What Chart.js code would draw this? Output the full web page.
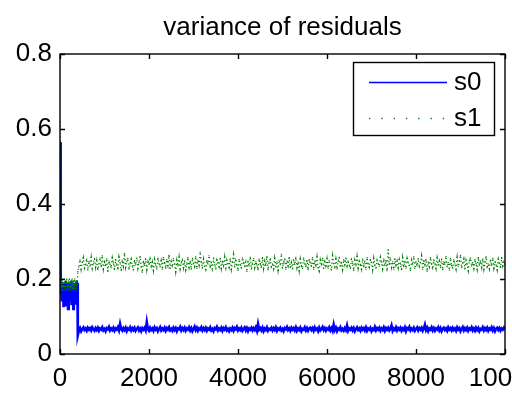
<!DOCTYPE html>
<html>
<head>
<meta charset="utf-8">
<script src="https://cdn.jsdelivr.net/npm/chart.js@4.4.1/dist/chart.umd.min.js"></script>
<style>
  html, body { margin: 0; padding: 0; background: #fff; }
  #wrap { width: 512px; height: 407px; }
</style>
</head>
<body>
<div id="wrap"><canvas id="c" width="512" height="407"></canvas></div>
<script>
const titleText = "variance of residuals";
const seriesNames = ["s0", "s1"];
const xTicks = [0, 2000, 4000, 6000, 8000, 10000];
const xTickLabels = ["0", "2000", "4000", "6000", "8000", "10000"];
const yTicks = [0, 0.2, 0.4, 0.6, 0.8];
const yTickLabels = ["0", "0.2", "0.4", "0.6", "0.8"];

const iterations = [
  0,10,20,30,40,50,60,70,80,90,
  100,110,120,130,140,150,160,170,180,190,
  200,210,220,230,240,250,260,270,280,290,
  300,310,320,330,340,350,360,370,380,390,
  400,
  425,450,475,500,525,550,575,600,625,650,675,700,725,750,775,800,
  825,850,875,900,925,950,975,1000,1025,1050,1075,1100,1125,1150,1175,1200,
  1225,1250,1275,1300,1325,1350,1375,1400,1425,1450,1475,1500,1525,1550,1575,1600,
  1625,1650,1675,1700,1725,1750,1775,1800,1825,1850,1875,1900,1925,1950,1975,2000,
  2025,2050,2075,2100,2125,2150,2175,2200,2225,2250,2275,2300,2325,2350,2375,2400,
  2425,2450,2475,2500,2525,2550,2575,2600,2625,2650,2675,2700,2725,2750,2775,2800,
  2825,2850,2875,2900,2925,2950,2975,3000,3025,3050,3075,3100,3125,3150,3175,3200,
  3225,3250,3275,3300,3325,3350,3375,3400,3425,3450,3475,3500,3525,3550,3575,3600,
  3625,3650,3675,3700,3725,3750,3775,3800,3825,3850,3875,3900,3925,3950,3975,4000,
  4025,4050,4075,4100,4125,4150,4175,4200,4225,4250,4275,4300,4325,4350,4375,4400,
  4425,4450,4475,4500,4525,4550,4575,4600,4625,4650,4675,4700,4725,4750,4775,4800,
  4825,4850,4875,4900,4925,4950,4975,5000,5025,5050,5075,5100,5125,5150,5175,5200,
  5225,5250,5275,5300,5325,5350,5375,5400,5425,5450,5475,5500,5525,5550,5575,5600,
  5625,5650,5675,5700,5725,5750,5775,5800,5825,5850,5875,5900,5925,5950,5975,6000,
  6025,6050,6075,6100,6125,6150,6175,6200,6225,6250,6275,6300,6325,6350,6375,6400,
  6425,6450,6475,6500,6525,6550,6575,6600,6625,6650,6675,6700,6725,6750,6775,6800,
  6825,6850,6875,6900,6925,6950,6975,7000,7025,7050,7075,7100,7125,7150,7175,7200,
  7225,7250,7275,7300,7325,7350,7375,7400,7425,7450,7475,7500,7525,7550,7575,7600,
  7625,7650,7675,7700,7725,7750,7775,7800,7825,7850,7875,7900,7925,7950,7975,8000,
  8025,8050,8075,8100,8125,8150,8175,8200,8225,8250,8275,8300,8325,8350,8375,8400,
  8425,8450,8475,8500,8525,8550,8575,8600,8625,8650,8675,8700,8725,8750,8775,8800,
  8825,8850,8875,8900,8925,8950,8975,9000,9025,9050,9075,9100,9125,9150,9175,9200,
  9225,9250,9275,9300,9325,9350,9375,9400,9425,9450,9475,9500,9525,9550,9575,9600,
  9625,9650,9675,9700,9725,9750,9775,9800,9825,9850,9875,9900,9925,9950,9975,10000
];

const s0Values = [
  0.565,0.19,0.16,0.185,0.14,0.19,0.15,0.18,0.125,0.19,
  0.155,0.185,0.13,0.195,0.15,0.18,0.145,0.19,0.12,0.185,
  0.16,0.19,0.14,0.18,0.155,0.195,0.13,0.185,0.15,0.19,
  0.12,0.18,0.155,0.19,0.135,0.185,0.15,0.195,0.16,0.19,
  0.05,
  0.063,0.069,0.061,0.067,0.071,0.064,0.068,0.062,0.070,0.065,0.069,0.063,0.071,0.066,0.062,0.069,
  0.064,0.070,0.062,0.068,0.065,0.071,0.063,0.067,0.061,0.069,0.066,0.072,0.063,0.068,0.064,0.070,
  0.062,0.068,0.065,0.071,0.063,0.080,0.066,0.062,0.069,0.064,0.070,0.061,0.068,0.065,0.071,0.063,
  0.069,0.064,0.070,0.062,0.067,0.071,0.063,0.068,0.061,0.069,0.065,0.070,0.063,0.085,0.066,0.062,
  0.070,0.064,0.068,0.062,0.071,0.065,0.069,0.061,0.067,0.072,0.063,0.068,0.064,0.070,0.062,0.069,
  0.065,0.071,0.063,0.067,0.062,0.070,0.064,0.069,0.061,0.068,0.066,0.072,0.063,0.069,0.064,0.070,
  0.062,0.068,0.065,0.071,0.063,0.069,0.061,0.067,0.073,0.064,0.070,0.062,0.068,0.065,0.071,0.063,
  0.069,0.064,0.070,0.062,0.068,0.065,0.071,0.063,0.067,0.061,0.069,0.066,0.072,0.063,0.068,0.064,
  0.070,0.062,0.069,0.065,0.071,0.063,0.067,0.061,0.068,0.064,0.070,0.062,0.069,0.066,0.072,0.063,
  0.068,0.064,0.070,0.062,0.067,0.071,0.063,0.069,0.061,0.068,0.065,0.070,0.063,0.069,0.064,0.071,
  0.062,0.080,0.065,0.069,0.063,0.070,0.061,0.068,0.064,0.071,0.062,0.067,0.065,0.070,0.063,0.069,
  0.064,0.071,0.062,0.068,0.065,0.070,0.063,0.067,0.061,0.069,0.066,0.072,0.064,0.068,0.062,0.070,
  0.065,0.069,0.063,0.071,0.062,0.068,0.064,0.070,0.061,0.067,0.065,0.071,0.063,0.069,0.062,0.068,
  0.070,0.064,0.069,0.062,0.071,0.065,0.068,0.061,0.070,0.063,0.067,0.072,0.064,0.069,0.062,0.068,
  0.065,0.071,0.063,0.069,0.062,0.078,0.064,0.070,0.061,0.068,0.065,0.071,0.063,0.067,0.062,0.069,
  0.064,0.076,0.062,0.068,0.065,0.070,0.063,0.069,0.061,0.067,0.071,0.064,0.068,0.062,0.070,0.065,
  0.069,0.063,0.071,0.062,0.068,0.065,0.070,0.061,0.067,0.064,0.072,0.063,0.069,0.065,0.070,0.062,
  0.068,0.064,0.071,0.062,0.069,0.065,0.070,0.063,0.067,0.076,0.062,0.068,0.064,0.071,0.063,0.069,
  0.065,0.070,0.062,0.068,0.064,0.071,0.061,0.069,0.066,0.072,0.063,0.068,0.064,0.070,0.062,0.067,
  0.071,0.063,0.069,0.065,0.070,0.062,0.068,0.078,0.064,0.070,0.061,0.068,0.065,0.071,0.063,0.069,
  0.062,0.068,0.065,0.071,0.063,0.069,0.061,0.067,0.070,0.064,0.068,0.062,0.071,0.065,0.069,0.063,
  0.070,0.064,0.068,0.062,0.071,0.065,0.069,0.061,0.067,0.072,0.063,0.069,0.064,0.070,0.062,0.068,
  0.065,0.071,0.063,0.068,0.062,0.070,0.064,0.069,0.061,0.067,0.065,0.071,0.063,0.069,0.064,0.070,
  0.062,0.068,0.065,0.071,0.063,0.069,0.061,0.067,0.070,0.064,0.069,0.062,0.068,0.065,0.070,0.064
];

const s1Values = [
  0.62,0.19,0.175,0.195,0.18,0.2,0.17,0.19,0.18,0.2,
  0.175,0.19,0.17,0.195,0.18,0.2,0.175,0.185,0.17,0.195,
  0.18,0.2,0.175,0.19,0.17,0.195,0.18,0.2,0.175,0.19,
  0.17,0.195,0.18,0.2,0.175,0.19,0.17,0.195,0.18,0.19,
  0.22,
  0.232,0.251,0.226,0.244,0.257,0.229,0.238,0.253,0.224,0.247,0.235,0.258,0.228,0.242,0.255,0.231,
  0.249,0.225,0.240,0.256,0.233,0.262,0.227,0.245,0.236,0.254,0.221,0.248,0.239,0.230,0.257,0.243,
  0.226,0.252,0.237,0.229,0.259,0.244,0.223,0.250,0.234,0.268,0.231,0.246,0.255,0.227,0.241,0.253,
  0.235,0.224,0.249,0.238,0.256,0.228,0.243,0.260,0.232,0.218,0.247,0.236,0.254,0.225,0.250,0.239,
  0.258,0.230,0.245,0.223,0.252,0.237,0.227,0.255,0.241,0.233,0.249,0.226,0.257,0.244,0.229,0.251,
  0.236,0.263,0.228,0.246,0.232,0.254,0.240,0.219,0.250,0.235,0.258,0.227,0.243,0.253,0.230,0.248,
  0.224,0.239,0.257,0.231,0.247,0.226,0.255,0.242,0.233,0.259,0.228,0.250,0.237,0.272,0.244,0.229,
  0.253,0.234,0.225,0.249,0.240,0.262,0.230,0.245,0.222,0.256,0.238,0.227,0.251,0.243,0.233,0.255,
  0.228,0.247,0.236,0.258,0.224,0.250,0.241,0.231,0.254,0.226,0.245,0.265,0.232,0.249,0.237,0.223,
  0.252,0.239,0.229,0.256,0.244,0.233,0.250,0.220,0.247,0.235,0.258,0.227,0.242,0.254,0.230,0.246,
  0.237,0.225,0.253,0.241,0.231,0.257,0.228,0.248,0.236,0.260,0.224,0.245,0.252,0.233,0.240,0.227,
  0.255,0.232,0.246,0.223,0.250,0.238,0.266,0.229,0.243,0.254,0.226,0.248,0.235,0.257,0.231,0.244,
  0.227,0.251,0.239,0.258,0.230,0.245,0.222,0.253,0.236,0.228,0.256,0.242,0.233,0.249,0.225,0.252,
  0.243,0.234,0.257,0.226,0.248,0.237,0.259,0.230,0.221,0.251,0.240,0.255,0.228,0.246,0.235,0.254,
  0.229,0.250,0.236,0.224,0.262,0.241,0.232,0.253,0.227,0.247,0.258,0.234,0.244,0.225,0.251,0.238,
  0.256,0.230,0.245,0.237,0.228,0.254,0.242,0.223,0.250,0.235,0.260,0.229,0.247,0.239,0.226,0.253,
  0.233,0.248,0.226,0.257,0.240,0.231,0.252,0.244,0.224,0.255,0.237,0.229,0.250,0.242,0.234,0.258,
  0.245,0.227,0.253,0.236,0.249,0.222,0.278,0.239,0.256,0.231,0.246,0.226,0.254,0.237,0.248,0.230,
  0.252,0.240,0.225,0.257,0.233,0.247,0.229,0.255,0.243,0.236,0.223,0.250,0.238,0.259,0.228,0.246,
  0.235,0.254,0.230,0.244,0.262,0.226,0.249,0.238,0.252,0.221,0.245,0.233,0.257,0.240,0.227,0.251,
  0.242,0.228,0.256,0.237,0.248,0.231,0.253,0.225,0.246,0.239,0.260,0.232,0.244,0.224,0.255,0.236,
  0.229,0.251,0.240,0.226,0.258,0.234,0.247,0.263,0.230,0.243,0.254,0.227,0.250,0.238,0.222,0.249,
  0.256,0.235,0.244,0.228,0.252,0.241,0.225,0.257,0.237,0.248,0.231,0.253,0.226,0.245,0.259,0.233,
  0.240,0.227,0.250,0.236,0.255,0.229,0.246,0.238,0.224,0.253,0.242,0.231,0.257,0.235,0.248,0.239
];

const FONT = '"Liberation Sans", Arial, Helvetica, sans-serif';
const FONT_SIZE = 26;
const seriesColors = ["#0000ff", "#008000"];

const framePlugin = {
  id: 'matlabFrame',
  afterDatasetsDraw(chart) {
    const ctx = chart.ctx;
    const a = chart.chartArea;
    const xs = chart.scales.x, ys = chart.scales.y;
    ctx.save();
    ctx.fillStyle = '#000';
    ctx.font = FONT_SIZE + 'px ' + FONT;
    ctx.textAlign = 'center';
    ctx.textBaseline = 'alphabetic';
    ctx.fillText(titleText, (a.left + a.right) / 2, a.top - 19);

    ctx.strokeStyle = '#000';
    ctx.lineWidth = 1.4;
    ctx.strokeRect(a.left, a.top, a.right - a.left, a.bottom - a.top);
    const tl = 5;
    ctx.beginPath();
    xTicks.forEach(v => {
      const px = Math.round(xs.getPixelForValue(v)) + 0.5;
      ctx.moveTo(px, a.bottom); ctx.lineTo(px, a.bottom - tl);
      ctx.moveTo(px, a.top); ctx.lineTo(px, a.top + tl);
    });
    yTicks.forEach(v => {
      const py = Math.round(ys.getPixelForValue(v)) + 0.5;
      ctx.moveTo(a.left, py); ctx.lineTo(a.left + tl, py);
      ctx.moveTo(a.right, py); ctx.lineTo(a.right - tl, py);
    });
    ctx.stroke();

    const bw = 141, bh = 73;
    const bx = a.right - 152, by = a.top + 8;
    ctx.fillStyle = '#fff';
    ctx.fillRect(bx, by, bw, bh);
    ctx.lineWidth = 1.4;
    ctx.strokeStyle = '#000';
    ctx.strokeRect(bx + 0.5, by + 0.5, bw, bh);
    const rows = [by + 20, by + 56];
    chart.data.datasets.forEach((ds, i) => {
      const y = rows[i];
      ctx.beginPath();
      ctx.strokeStyle = ds.borderColor;
      ctx.lineWidth = 1.3;
      ctx.setLineDash(ds.borderDash ? [1.3, 11] : []);
      ctx.moveTo(bx + 16, y + 0.5);
      ctx.lineTo(bx + 94, y + 0.5);
      ctx.stroke();
      ctx.setLineDash([]);
      ctx.fillStyle = '#000';
      ctx.font = FONT_SIZE + 'px ' + FONT;
      ctx.textBaseline = 'middle';
      ctx.textAlign = 'left';
      ctx.fillText(ds.label, bx + 101, y + 1);
    });
    ctx.restore();
  }
};

const datasets = [
  {
    label: seriesNames[0],
    data: iterations.map((x, i) => ({ x: x, y: s0Values[i] })),
    borderColor: seriesColors[0],
    borderWidth: 2.6,
    pointRadius: 0,
    tension: 0,
    order: 1
  },
  {
    label: seriesNames[1],
    data: iterations.map((x, i) => ({ x: x, y: s1Values[i] })),
    borderColor: seriesColors[1],
    borderWidth: 1.3,
    borderDash: [1.2, 2.6],
    pointRadius: 0.85,
    pointStyle: 'rect',
    pointBorderWidth: 0,
    pointBackgroundColor: seriesColors[1],
    tension: 0,
    order: 0
  }
];

new Chart(document.getElementById('c'), {
  type: 'line',
  data: { datasets: datasets },
  options: {
    responsive: false,
    animation: false,
    events: [],
    layout: { padding: { left: 0, right: 7, top: 54, bottom: 0 } },
    plugins: {
      legend: { display: false },
      tooltip: { enabled: false },
      title: { display: false }
    },
    scales: {
      x: {
        type: 'linear',
        min: 0, max: 10000,
        afterBuildTicks(scale) { scale.ticks = xTicks.map(v => ({ value: v })); },
        afterFit(scale) { scale.height = 53; scale.paddingRight = 0; scale.paddingLeft = 0; },
        grid: { display: false, drawTicks: false },
        border: { display: false },
        ticks: {
          color: '#000',
          padding: 9,
          maxRotation: 0,
          autoSkip: false,
          font: { family: FONT, size: FONT_SIZE },
          callback: (v) => xTickLabels[xTicks.indexOf(v)]
        }
      },
      y: {
        type: 'linear',
        min: 0, max: 0.8,
        afterBuildTicks(scale) { scale.ticks = yTicks.map(v => ({ value: v })); },
        afterFit(scale) { scale.width = 60; scale.paddingTop = 0; scale.paddingBottom = 0; },
        grid: { display: false, drawTicks: false },
        border: { display: false },
        ticks: {
          color: '#000',
          padding: 8,
          autoSkip: false,
          font: { family: FONT, size: FONT_SIZE },
          callback: (v) => yTickLabels[yTicks.indexOf(v)]
        }
      }
    }
  },
  plugins: [framePlugin]
});
</script>
</body>
</html>
